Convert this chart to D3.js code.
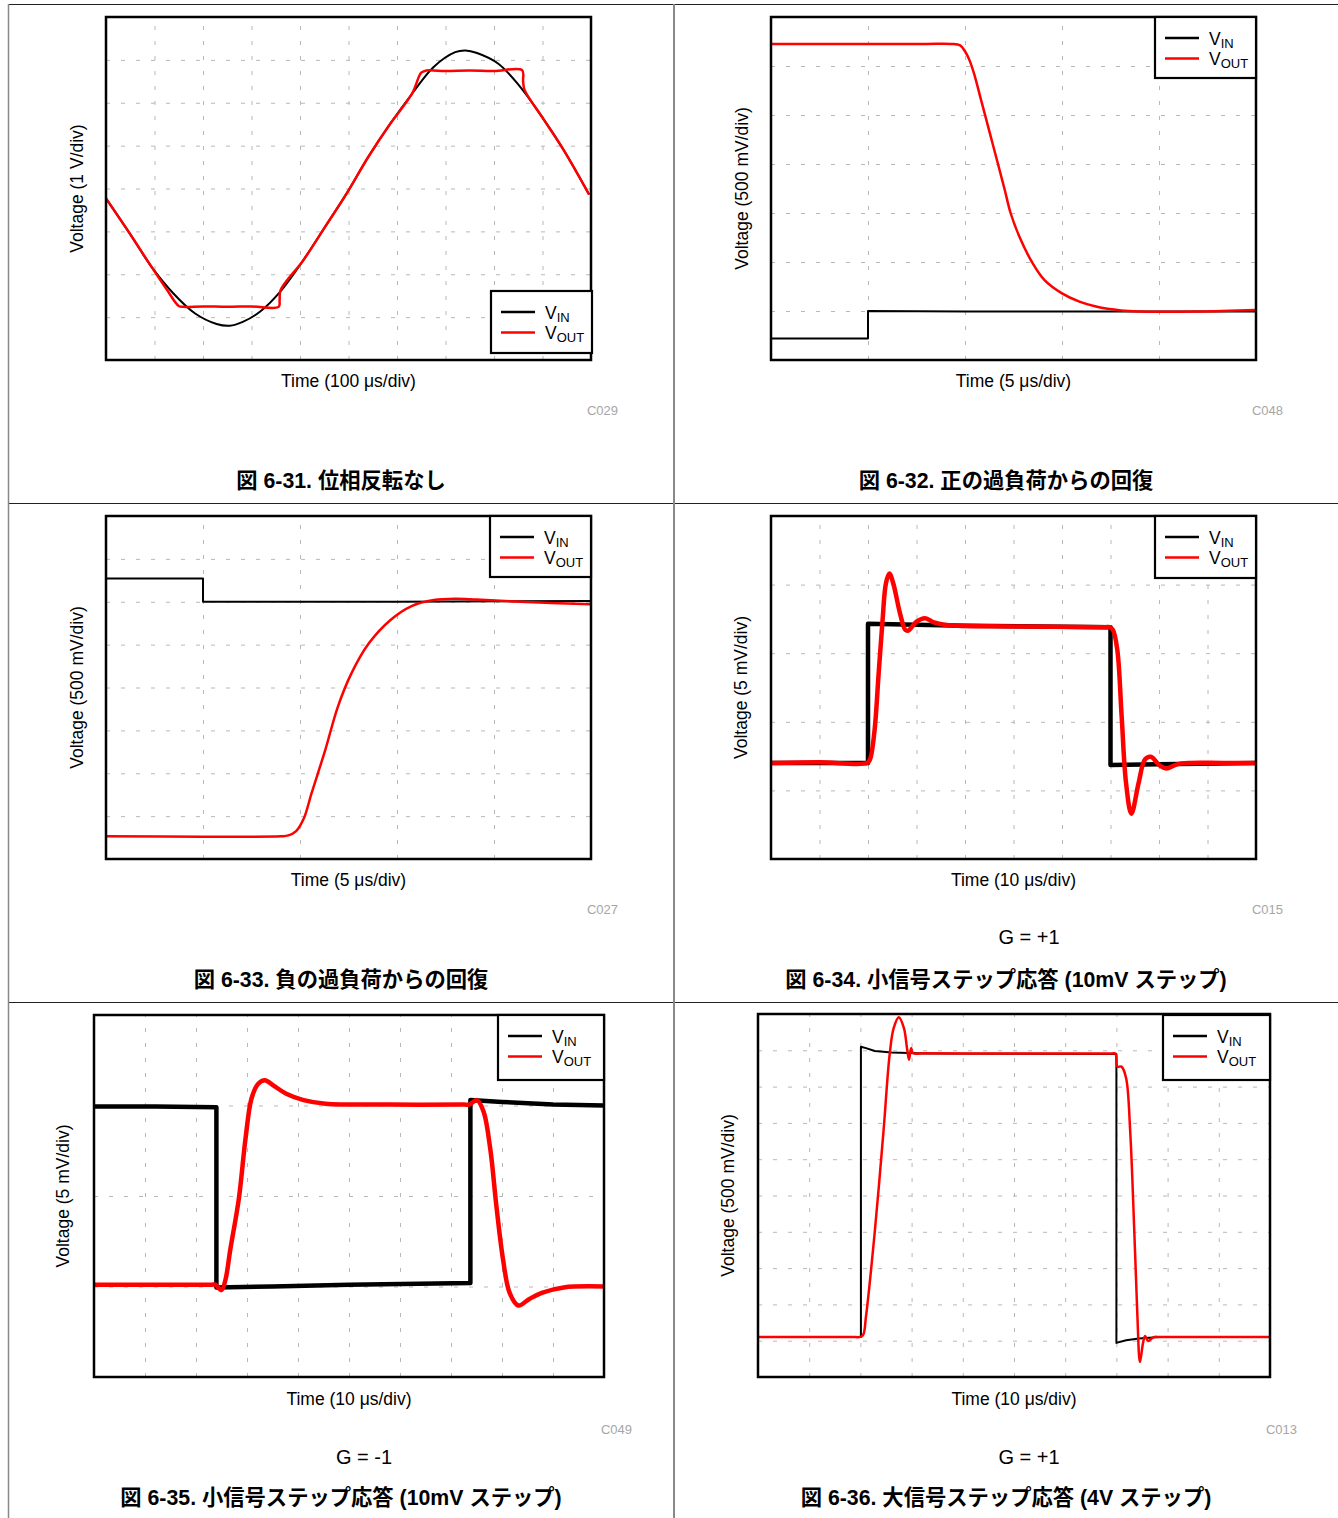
<!DOCTYPE html>
<html>
<head>
<meta charset="utf-8">
<script src="https://cdn.jsdelivr.net/npm/d3@7"></script>
<style>
body { margin: 0; background: #fff; }
svg { display: block; }
text { font-family: "Liberation Sans", Arial, sans-serif; fill: #000; }
.cap { font-family: "Liberation Sans", "Noto Sans CJK JP", sans-serif; font-weight: bold; }
</style>
</head>
<body>
<svg id="chart" width="1338" height="1518"></svg>
<script>

// 6-31 no phase reversal (10 x 8 div)
var p1Vin = [[0,3.77],[0.49,2.95],[0.94,2.17],[1.39,1.55],[1.83,1.09],[2.28,0.84],[2.55,0.80],[2.82,0.89],
	[3.18,1.13],[3.62,1.63],[4.07,2.33],[4.52,3.11],[4.96,3.88],[5.41,4.74],[5.86,5.51],[6.31,6.21],
	[6.75,6.83],[7.2,7.18],[7.41,7.22],[7.65,7.16],[8.09,6.91],[8.54,6.37],[8.99,5.67],[9.44,4.89],[9.96,3.86]];
var p1Vout = [[0,3.77],[0.49,2.95],[0.94,2.17],[1.25,1.65],[1.5,1.26],[1.6,1.24],[2.0,1.25],[2.5,1.24],
	[3.0,1.25],[3.56,1.24],[3.58,1.4],[3.6,1.63],[4.07,2.33],[4.52,3.11],[4.96,3.88],[5.41,4.74],
	[5.86,5.51],[6.31,6.21],[6.5,6.7],[6.6,6.75],[7.0,6.74],[7.5,6.75],[8.0,6.74],[8.58,6.76],
	[8.6,6.5],[8.63,6.3],[8.99,5.67],[9.44,4.89],[9.96,3.86]];

// 6-32 positive overload recovery (5 x 7 div)
var p2Vin = [[0,0.44],[1.0,0.44],[1.0,1.0],[2.0,0.99],[3.0,0.99],[5.0,0.99]];
var p2Vout = [[0,6.45],[1.0,6.45],[1.6,6.45],[1.86,6.45],[1.95,6.42],[2.0,6.3],[2.05,6.1],[2.1,5.8],
	[2.16,5.35],[2.22,4.9],[2.28,4.45],[2.34,4.0],[2.41,3.47],[2.47,3.0],[2.56,2.52],[2.69,2.0],
	[2.82,1.63],[3.0,1.36],[3.18,1.19],[3.35,1.09],[3.61,1.01],[3.79,0.99],[4.4,0.99],[5.0,1.02]];

// 6-33 negative overload recovery (5 x 8 div)
var p3Vin = [[0,6.54],[1.0,6.54],[1.0,6.0],[3.0,6.0],[5.0,6.02]];
var p3Vout = [[0,0.53],[1.0,0.52],[1.8,0.53],[1.88,0.55],[1.96,0.65],[2.04,0.95],[2.12,1.54],[2.26,2.54],
	[2.39,3.55],[2.53,4.33],[2.71,5.03],[2.93,5.57],[3.15,5.9],[3.38,6.04],[3.6,6.07],[3.82,6.05],
	[4.27,6.0],[5.0,5.94]];

// 6-34 small step, G = +1 (10 x 5 div)
var p4Vin = [[0,1.40],[2.0,1.40],[2.0,3.43],[4.0,3.40],[7.0,3.38],[7.0,1.37],[8.0,1.38],[10,1.40]];
var p4Vout = [[0,1.40],[1.0,1.41],[1.98,1.40],[2.04,1.45],[2.13,1.84],[2.22,2.71],[2.30,3.48],[2.37,4.02],
	[2.44,4.16],[2.52,4.02],[2.66,3.58],[2.77,3.34],[2.83,3.33],[3.0,3.46],[3.18,3.51],[3.36,3.45],
	[3.62,3.41],[5.0,3.39],[6.9,3.38],[6.98,3.38],[7.05,3.34],[7.14,3.05],[7.23,2.08],[7.32,1.11],[7.43,0.66],
	[7.58,1.11],[7.71,1.45],[7.83,1.49],[8.02,1.36],[8.15,1.32],[8.37,1.38],[8.64,1.40],[9.3,1.40],[10,1.40]];

// 6-35 small step, G = -1 (10 x 4 div)
var p5Vin = [[0,2.99],[1.2,2.99],[2.40,2.98],[2.40,0.99],[3.5,1.0],[5.0,1.02],[7.38,1.04],[7.38,3.06],
	[8.0,3.04],[9.0,3.01],[10,3.0]];
var p5Vout = [[0,1.02],[1.2,1.02],[2.3,1.02],[2.38,1.02],[2.50,0.96],[2.58,1.08],[2.67,1.4],[2.84,1.97],[2.97,2.63],
	[3.09,3.08],[3.22,3.24],[3.35,3.28],[3.52,3.22],[3.77,3.13],[4.11,3.06],[4.54,3.02],[5.81,3.01],
	[7.25,3.01],[7.36,3.01],[7.51,3.06],[7.64,2.93],[7.77,2.52],[7.89,1.89],[8.02,1.30],[8.15,0.93],[8.32,0.79],
	[8.53,0.86],[8.78,0.93],[9.21,0.99],[10,1.0]];

// 6-36 large step, G = +1 (10 x 10 div)
var p6Vin = [[0,1.10],[2.01,1.10],[2.01,9.1],[2.11,9.06],[2.28,8.98],[2.61,8.94],[3.28,8.91],[7.0,8.9],
	[7.0,0.94],[7.19,1.01],[7.44,1.06],[7.85,1.10],[10,1.10]];
var p6Vout = [[0,1.10],[1.9,1.10],[1.98,1.10],[2.05,1.15],[2.11,1.68],[2.28,3.99],[2.45,6.75],[2.57,8.87],[2.65,9.61],
	[2.75,9.91],[2.85,9.61],[2.91,9.06],[2.95,8.74],[2.99,9.06],[3.03,8.92],[3.28,8.92],[4.5,8.91],[6.0,8.91],
	[6.9,8.91],[6.98,8.91],[7.02,8.55],[7.1,8.55],[7.19,8.23],[7.27,6.75],[7.35,3.99],[7.41,1.68],[7.46,0.41],
	[7.52,0.94],[7.56,1.13],[7.62,0.99],[7.73,1.10],[7.85,1.10],[8.5,1.10],[9.3,1.10],[10,1.10]];

var panels = [
	{ box:[106,17,591,360], xdiv:10, ydiv:8, legend:[491,291,101,62], yLabX:77,
	  yLabel:"Voltage (1 V/div)", xLabel:"Time (100 \u03bcs/div)", code:"C029", codeX:618, row:0,
	  gain:null, capX:341, caption:"図 6-31. 位相反転なし",
	  vin:p1Vin, vout:p1Vout, wIn:2, wOut:2.5, smoothIn:true },
	{ box:[771,17,1256,360], xdiv:5, ydiv:7, legend:[1155,17,101,61], yLabX:742,
	  yLabel:"Voltage (500 mV/div)", xLabel:"Time (5 \u03bcs/div)", code:"C048", codeX:1283, row:0,
	  gain:null, capX:1006, caption:"図 6-32. 正の過負荷からの回復",
	  vin:p2Vin, vout:p2Vout, wIn:2, wOut:2.5 },
	{ box:[106,516,591,859], xdiv:5, ydiv:8, legend:[490,516,101,61], yLabX:77,
	  yLabel:"Voltage (500 mV/div)", xLabel:"Time (5 \u03bcs/div)", code:"C027", codeX:618, row:1,
	  gain:null, capX:341, caption:"図 6-33. 負の過負荷からの回復",
	  vin:p3Vin, vout:p3Vout, wIn:2, wOut:2.5 },
	{ box:[771,516,1256,859], xdiv:10, ydiv:5, legend:[1155,516,101,62], yLabX:741,
	  yLabel:"Voltage (5 mV/div)", xLabel:"Time (10 \u03bcs/div)", code:"C015", codeX:1283, row:1,
	  gain:"G = +1", gainX:1029, capX:1006, caption:"図 6-34. 小信号ステップ応答 (10mV ステップ)",
	  vin:p4Vin, vout:p4Vout, wIn:4.5, wOut:4.5 },
	{ box:[94,1015,604,1377], xdiv:10, ydiv:4, legend:[498,1015,106,65], yLabX:63,
	  yLabel:"Voltage (5 mV/div)", xLabel:"Time (10 \u03bcs/div)", code:"C049", codeX:632, row:2,
	  gain:"G = -1", gainX:364, capX:341, caption:"図 6-35. 小信号ステップ応答 (10mV ステップ)",
	  vin:p5Vin, vout:p5Vout, wIn:4.5, wOut:4.5 },
	{ box:[758,1014,1270,1377], xdiv:10, ydiv:10, legend:[1163,1015,107,65], yLabX:728,
	  yLabel:"Voltage (500 mV/div)", xLabel:"Time (10 \u03bcs/div)", code:"C013", codeX:1297, row:2,
	  gain:"G = +1", gainX:1029, capX:1006, caption:"図 6-36. 大信号ステップ応答 (4V ステップ)",
	  vin:p6Vin, vout:p6Vout, wIn:2, wOut:2.5 }
];

// text baselines per row of the page
var rows = [
	{ xLab:387, code:414.5, gain:944, cap:487.5 },
	{ xLab:886, code:913.5, gain:944, cap:986.5 },
	{ xLab:1405, code:1433.5, gain:1464, cap:1505 }
];

var svg = d3.select("#chart");

// page frame
svg.append("line").attr("x1",8).attr("x2",1338).attr("y1",4.5).attr("y2",4.5).attr("stroke","#222");
svg.append("line").attr("x1",8).attr("x2",1338).attr("y1",503.5).attr("y2",503.5).attr("stroke","#222");
svg.append("line").attr("x1",8).attr("x2",1338).attr("y1",1002.5).attr("y2",1002.5).attr("stroke","#222");
svg.append("line").attr("x1",8.5).attr("x2",8.5).attr("y1",4).attr("y2",1518).attr("stroke","#888").attr("stroke-width",1.5);
svg.append("line").attr("x1",674).attr("x2",674).attr("y1",4).attr("y2",1518).attr("stroke","#888").attr("stroke-width",2);

panels.forEach(function(p, i){

	var x = d3.scaleLinear().domain([0, p.xdiv]).range([p.box[0], p.box[2]]);
	var y = d3.scaleLinear().domain([0, p.ydiv]).range([p.box[3], p.box[1]]);
	var w = p.box[2] - p.box[0];
	var h = p.box[3] - p.box[1];
	var r = rows[p.row];

	var g = svg.append("g");

	// graticule
	g.append("g")
		.attr("transform", "translate(0," + p.box[3] + ")")
		.call(d3.axisBottom(x).tickValues(d3.range(1, p.xdiv)).tickSize(-h).tickFormat(""))
		.call(function(s){ s.select(".domain").remove(); })
		.selectAll("line")
		.attr("stroke", "#b8b8b8")
		.attr("stroke-dasharray", "4,11");
	g.append("g")
		.attr("transform", "translate(" + p.box[0] + ",0)")
		.call(d3.axisLeft(y).tickValues(d3.range(1, p.ydiv)).tickSize(-w).tickFormat(""))
		.call(function(s){ s.select(".domain").remove(); })
		.selectAll("line")
		.attr("stroke", "#b8b8b8")
		.attr("stroke-dasharray", "4,11");

	g.append("clipPath").attr("id", "clip" + i)
		.append("rect").attr("x", p.box[0]).attr("y", p.box[1]).attr("width", w).attr("height", h);

	var smooth = d3.line().x(function(d){ return x(d[0]); }).y(function(d){ return y(d[1]); })
		.curve(d3.curveCatmullRom.alpha(0.5));
	var straight = d3.line().x(function(d){ return x(d[0]); }).y(function(d){ return y(d[1]); });

	var traces = g.append("g").attr("clip-path", "url(#clip" + i + ")");
	traces.append("path")
		.attr("d", (p.smoothIn ? smooth : straight)(p.vin))
		.attr("fill", "none").attr("stroke", "#000").attr("stroke-width", p.wIn)
		.attr("stroke-linejoin", "round");
	traces.append("path")
		.attr("d", smooth(p.vout))
		.attr("fill", "none").attr("stroke", "#ff0000").attr("stroke-width", p.wOut)
		.attr("stroke-linejoin", "round");

	// outer box
	g.append("rect")
		.attr("x", p.box[0]).attr("y", p.box[1]).attr("width", w).attr("height", h)
		.attr("fill", "none").attr("stroke", "#000").attr("stroke-width", 2.5);

	// legend
	var L = p.legend;
	var leg = g.append("g").attr("transform", "translate(" + L[0] + "," + L[1] + ")");
	leg.append("rect").attr("width", L[2]).attr("height", L[3])
		.attr("fill", "#fff").attr("stroke", "#000").attr("stroke-width", 2.2);
	[["#000", "IN"], ["#ff0000", "OUT"]].forEach(function(e, k){
		var ly = 21 + k * 20.5;
		leg.append("line").attr("x1", 10).attr("x2", 44).attr("y1", ly).attr("y2", ly)
			.attr("stroke", e[0]).attr("stroke-width", 2.5);
		var t = leg.append("text").attr("x", 54).attr("y", ly + 6.5).attr("font-size", 17.5).text("V");
		t.append("tspan").attr("dy", 3).attr("font-size", 13).text(e[1]);
	});

	// axis titles
	svg.append("text")
		.attr("transform", "translate(" + (p.yLabX + 6) + "," + ((p.box[1] + p.box[3]) / 2) + ") rotate(-90)")
		.attr("text-anchor", "middle").attr("font-size", 17.5)
		.text(p.yLabel);
	svg.append("text")
		.attr("x", (p.box[0] + p.box[2]) / 2).attr("y", r.xLab)
		.attr("text-anchor", "middle").attr("font-size", 17.5)
		.text(p.xLabel);
	svg.append("text")
		.attr("x", p.codeX).attr("y", r.code)
		.attr("text-anchor", "end").attr("font-size", 13).style("fill", "#a6a6a6")
		.text(p.code);
	if (p.gain) {
		svg.append("text")
			.attr("x", p.gainX).attr("y", r.gain)
			.attr("text-anchor", "middle").attr("font-size", 20)
			.text(p.gain);
	}
	svg.append("text").attr("class", "cap")
		.attr("x", p.capX).attr("y", r.cap)
		.attr("text-anchor", "middle").attr("font-size", 21.3)
		.text(p.caption);
});

</script>
</body>
</html>
